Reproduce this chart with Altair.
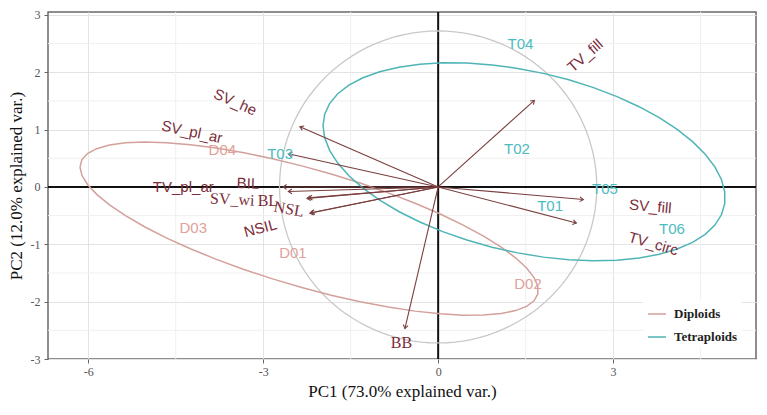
import numpy as np
import pandas as pd
import altair as alt

# ---------------- data ----------------
var_names = ["SV_he", "SV_pl_ar", "TV_pl_ar", "BIL", "SV_wi", "BL", "NSL", "NSIL",
             "TV_fill", "SV_fill", "TV_circ", "BB"]
arrow_x = [-2.37, -2.57, -2.66, -2.57, -2.25, -2.22, -2.20, -2.18, 1.65, 2.49, 2.37, -0.57]
arrow_y = [1.05, 0.58, 0.00, -0.08, -0.20, -0.19, -0.46, -0.45, 1.51, -0.22, -0.63, -2.47]
label_x = [-3.48, -4.22, -4.37, -3.26, -3.53, -2.92, -2.56, -3.05, 2.52, 3.64, 3.69, -0.63]
label_y = [1.48, 0.96, 0.00, 0.06, -0.22, -0.25, -0.39, -0.72, 2.29, -0.34, -0.99, -2.72]
label_angle = [24, 12, 0, 2, 3, 0, 10, 345, 319, 5, 16, 0]
label_font = ["sans", "sans", "sans", "sans", "serif", "serif", "serif", "sans",
              "sans", "sans", "sans", "serif"]

obs_names = ["D01", "D02", "D03", "D04", "T01", "T02", "T03", "T04", "T05", "T06"]
obs_x = [-2.49, 1.54, -4.20, -3.70, 1.92, 1.35, -2.71, 1.41, 2.86, 4.01]
obs_y = [-1.15, -1.69, -0.72, 0.65, -0.34, 0.67, 0.58, 2.50, -0.04, -0.74]
obs_group = ["Diploids"] * 4 + ["Tetraploids"] * 6

groups = ["Diploids", "Tetraploids"]
ellipse_prob = 0.68
circle_radius = 2.72

x_ticks = [-6, -3, 0, 3]
y_ticks = [-3, -2, -1, 0, 1, 2, 3]
x_minor = [-4.5, -1.5, 1.5, 4.5]
y_minor = [-2.5, -1.5, -0.5, 0.5, 1.5, 2.5]
x_domain = [-6.69, 5.45]
y_domain = [-3.0, 3.05]

x_title = "PC1 (73.0% explained var.)"
y_title = "PC2 (12.0% explained var.)"

# ---------------- derived tables ----------------
arrows = pd.DataFrame({"name": var_names, "x0": 0.0, "y0": 0.0, "x": arrow_x, "y": arrow_y})
arrows["hang"] = (np.degrees(np.arctan2(arrows["x"], arrows["y"])) + 360) % 360

vlabels = pd.DataFrame({"name": var_names, "x": label_x, "y": label_y,
                        "ang": label_angle, "font": label_font})

obs = pd.DataFrame({"name": obs_names, "x": obs_x, "y": obs_y, "group": obs_group})

# ggbiplot-style normal-probability ellipses from each group's covariance
theta = np.concatenate([np.linspace(-np.pi, np.pi, 50), np.linspace(np.pi, -np.pi, 50)])
unit = np.column_stack([np.cos(theta), np.sin(theta)])
ed = np.sqrt(-2 * np.log(1 - ellipse_prob))
ell_rows = []
for g in groups:
    sub = obs[obs["group"] == g]
    pts = sub[["x", "y"]].to_numpy()
    sigma = np.cov(pts.T)
    mu = pts.mean(axis=0)
    U = np.linalg.cholesky(sigma).T
    e = unit @ U * ed + mu
    for i, (ex, ey) in enumerate(e):
        ell_rows.append({"group": g, "x": ex, "y": ey, "i": i})
ell = pd.DataFrame(ell_rows)

t2 = np.linspace(0, 2 * np.pi, 121)
circ = pd.DataFrame({"x": circle_radius * np.cos(t2), "y": circle_radius * np.sin(t2),
                     "i": np.arange(len(t2))})

SERIF = "Liberation Serif"
SANS = "Liberation Sans"

xscale = alt.Scale(domain=x_domain, nice=False, zero=False)
yscale = alt.Scale(domain=y_domain, nice=False, zero=False)

xaxis = alt.Axis(values=x_ticks, title=x_title, titleFont=SERIF, titleFontSize=17,
                 titleFontWeight="normal", titleColor="#111111", labelFont=SERIF,
                 labelFontSize=12, labelColor="#555555", tickColor="#666666", tickSize=4,
                 domain=False, grid=True, gridColor="#e3e3e3", gridWidth=1,
                 labelPadding=3, titlePadding=6, labelExpr="'' + datum.value")
yaxis = alt.Axis(values=y_ticks, title=y_title, titleFont=SERIF, titleFontSize=17,
                 titleFontWeight="normal", titleColor="#111111", labelFont=SERIF,
                 labelFontSize=12, labelColor="#555555", tickColor="#666666", tickSize=4,
                 domain=False, grid=True, gridColor="#e3e3e3", gridWidth=1,
                 labelPadding=4, titlePadding=5, labelExpr="'' + datum.value")


def X(f):
    return alt.X(f, type="quantitative", scale=xscale, axis=xaxis)


def Y(f):
    return alt.Y(f, type="quantitative", scale=yscale, axis=yaxis)


minor_x = alt.Chart(pd.DataFrame({"x": x_minor})).mark_rule(
    color="#f0f0f0", strokeWidth=1).encode(x=X("x"))
minor_y = alt.Chart(pd.DataFrame({"y": y_minor})).mark_rule(
    color="#f0f0f0", strokeWidth=1).encode(y=Y("y"))

zero_h = alt.Chart(pd.DataFrame({"y": [0]})).mark_rule(
    color="#111111", strokeWidth=2).encode(y=Y("y"))
zero_v = alt.Chart(pd.DataFrame({"x": [0]})).mark_rule(
    color="#111111", strokeWidth=2).encode(x=X("x"))

circle_layer = alt.Chart(circ).mark_line(color="#c9c9c9", strokeWidth=1.3).encode(
    x=X("x"), y=Y("y"), order="i:Q")

ell_layer = alt.Chart(ell).mark_line(strokeWidth=1.5).encode(
    x=X("x"), y=Y("y"), order="i:Q",
    color=alt.Color("group:N",
                    scale=alt.Scale(domain=groups, range=["#d3a19b", "#4fb4b6"]),
                    legend=alt.Legend(title=None, orient="none", legendX=595, legendY=288,
                                      labelFont=SERIF, labelFontSize=13,
                                      labelFontWeight="bold", labelColor="#222222",
                                      symbolType="stroke", symbolSize=324,
                                      symbolStrokeWidth=1.5, labelOffset=7,
                                      rowPadding=6, padding=4, fillColor="white")))

arrow_lines = alt.Chart(arrows).mark_rule(color="#7a3e3e", strokeWidth=1.1).encode(
    x=X("x0"), y=Y("y0"), x2="x", y2="y")

arrow_heads = alt.Chart(arrows).mark_point(
    shape="M -0.6 0.9 L 0 0 L 0.6 0.9", filled=False, color="#7a3e3e",
    strokeWidth=1.1, size=64, opacity=1).encode(
    x=X("x"), y=Y("y"), angle=alt.Angle("hang:Q", scale=None))

vlab_sans = alt.Chart(vlabels).transform_filter(alt.datum.font == "sans").mark_text(
    font=SANS, fontSize=15, color="#7b2d3a", align="center", baseline="middle").encode(
    x=X("x"), y=Y("y"), text="name:N", angle=alt.Angle("ang:Q", scale=None))
vlab_serif = alt.Chart(vlabels).transform_filter(alt.datum.font == "serif").mark_text(
    font=SERIF, fontSize=16, color="#7b2d3a", align="center", baseline="middle").encode(
    x=X("x"), y=Y("y"), text="name:N", angle=alt.Angle("ang:Q", scale=None))

obs_d = alt.Chart(obs).transform_filter(alt.datum.group == "Diploids").mark_text(
    font=SANS, fontSize=15, color="#e0a29a", align="center", baseline="middle").encode(
    x=X("x"), y=Y("y"), text="name:N")
obs_t = alt.Chart(obs).transform_filter(alt.datum.group == "Tetraploids").mark_text(
    font=SANS, fontSize=15, color="#4cbcc0", align="center", baseline="middle").encode(
    x=X("x"), y=Y("y"), text="name:N")

chart = alt.layer(
    minor_x, minor_y, zero_h, zero_v, circle_layer, ell_layer,
    arrow_lines, arrow_heads, vlab_sans, vlab_serif, obs_d, obs_t
).properties(
    width=708, height=347,
    autosize=alt.AutoSizeParams(type="none"),
    padding={"left": 40, "top": 4, "right": 3, "bottom": 48},
    background="white",
).configure_view(
    stroke="#6a6a6a", strokeWidth=1.5
)

chart.save("out.html", embed_options={"renderer": "svg", "actions": False})
